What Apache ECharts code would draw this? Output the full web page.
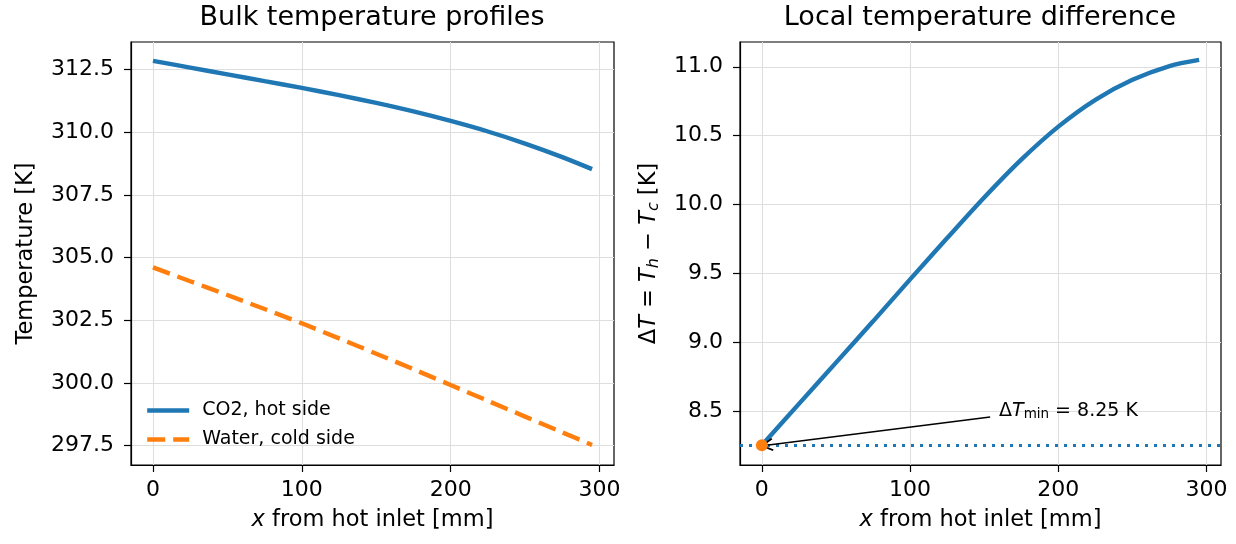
<!DOCTYPE html>
<html><head><meta charset="utf-8">
<script src="https://cdn.jsdelivr.net/npm/echarts@6/dist/echarts.min.js"></script>
<style>html,body{margin:0;padding:0;background:#fff}#c{width:1236px;height:544px}</style>
</head><body><div id="c"></div>
<script>
// ---- data ----
const xPos      = [0, 25, 50, 75, 100, 125, 150, 175, 200, 225, 250, 275, 295];
const co2Hot    = [312.85, 312.58, 312.31, 312.04, 311.77, 311.48, 311.17, 310.83, 310.45, 310.03, 309.55, 309.01, 308.53];
const waterCold = [304.61, 304.06, 303.51, 302.95, 302.38, 301.78, 301.17, 300.55, 299.92, 299.29, 298.66, 298.03, 297.53];
const deltaT    = [8.25, 8.55, 8.85, 9.15, 9.455, 9.755, 10.05, 10.325, 10.565, 10.76, 10.905, 11.005, 11.05];
const xTicks    = [0, 100, 200, 300];
const tempTicks = [297.5, 300.0, 302.5, 305.0, 307.5, 310.0, 312.5];
const dTTicks   = [8.5, 9.0, 9.5, 10.0, 10.5, 11.0];
const dTmin = 8.25, xAtMin = 0;
const annotXY   = [160, 8.5];
const arrowFrom = [154, 8.455];
const arrowTo   = [3.2, 8.25];
const seriesNames = ['CO2, hot side', 'Water, cold side'];
const titles = ['Bulk temperature profiles', 'Local temperature difference'];

const FONT = 'DejaVu Sans';
const BLUE = '#1f77b4', ORANGE = '#ff7f0e', GRIDC = '#dedede';
const LW = 4.4;
const zip = (a, b) => a.map((v, i) => [v, b[i]]);

function xAxisCfg(gi) {
  return {
    type: 'value', gridIndex: gi, min: -14.75, max: 309.75,
    axisLine: {show: true, onZero: false, lineStyle: {color: '#000', width: 1.2}},
    axisTick: {show: true, inside: false, length: 7, lineStyle: {color: '#000', width: 1.2}, customValues: xTicks},
    axisLabel: {show: true, margin: 14, fontSize: 22, fontFamily: FONT, color: '#000', customValues: xTicks, formatter: v => String(v)},
    splitLine: {show: true, lineStyle: {color: GRIDC, width: 1.1}},
    name: '{i|x} from hot inlet [mm]', nameLocation: 'middle', nameGap: 44,
    nameTextStyle: {fontSize: 22.5, fontFamily: FONT, color: '#000',
      rich: {i: {fontStyle: 'italic', fontSize: 22.5, fontFamily: FONT, color: '#000'}}}
  };
}
function yAxisCfg(gi, mn, mx, ticks, name, gap, rich) {
  return {
    type: 'value', gridIndex: gi, min: mn, max: mx,
    axisLine: {show: true, onZero: false, lineStyle: {color: '#000', width: 1.2}},
    axisTick: {show: true, inside: false, length: 7, lineStyle: {color: '#000', width: 1.2}, customValues: ticks},
    axisLabel: {show: true, margin: 17, fontSize: 22, fontFamily: FONT, color: '#000', customValues: ticks, formatter: v => v.toFixed(1)},
    splitLine: {show: true, lineStyle: {color: GRIDC, width: 1.1}},
    name: name, nameLocation: 'middle', nameGap: gap, nameRotate: 90,
    nameTextStyle: Object.assign({fontSize: 22.5, fontFamily: FONT, color: '#000'}, rich ? {rich: rich} : {})
  };
}

const chevron = 'path://M50,0 L100,88 L89,96 L50,28 L11,96 L0,88 Z';

const chart = echarts.init(document.getElementById('c'), null, {renderer: 'canvas'});
chart.setOption({
  animation: false,
  backgroundColor: '#fff',
  textStyle: {fontFamily: FONT},
  graphic: [
    {type: 'text', x: 372, y: 4, style: {text: titles[0], textAlign: 'center', fontSize: 27, fontFamily: FONT, fill: '#000'}},
    {type: 'text', x: 980, y: 4, style: {text: titles[1], textAlign: 'center', fontSize: 27, fontFamily: FONT, fill: '#000'}}
  ],
  grid: [
    {left: 131, right: 622, top: 42, bottom: 79, show: true, borderColor: '#000', borderWidth: 1.2, containLabel: false},
    {left: 740, right: 15, top: 42, bottom: 79, show: true, borderColor: '#000', borderWidth: 1.2, containLabel: false}
  ],
  xAxis: [xAxisCfg(0), xAxisCfg(1)],
  yAxis: [
    yAxisCfg(0, 296.73, 313.6, tempTicks, 'Temperature [K]', 93),
    yAxisCfg(1, 8.106, 11.18, dTTicks, '{n|Δ}{i|T}{n| = }{i|T}{s|h}{n| − }{i|T}{s|c}{n| [K]}', 78, {
      n: {fontSize: 22.5, fontFamily: FONT, color: '#000', lineHeight: 26, verticalAlign: 'middle'},
      i: {fontSize: 22.5, fontFamily: FONT, fontStyle: 'italic', color: '#000', lineHeight: 26, verticalAlign: 'middle'},
      s: {fontSize: 16, fontFamily: FONT, fontStyle: 'italic', color: '#000', lineHeight: 16, verticalAlign: 'bottom'}
    })
  ],
  legend: {
    show: true, orient: 'vertical', left: 145, top: 401, padding: 0, itemWidth: 42, itemHeight: 14, itemGap: 10,
    data: seriesNames,
    textStyle: {fontSize: 19, fontFamily: FONT, color: '#000', padding: [0, 0, 0, 8]},
    itemStyle: {opacity: 0},
    lineStyle: {width: LW}
  },
  series: [
    {name: seriesNames[0], type: 'line', xAxisIndex: 0, yAxisIndex: 0, data: zip(xPos, co2Hot),
     smooth: 0.3, symbol: 'none', color: BLUE, lineStyle: {color: BLUE, width: LW}, z: 3},
    {name: seriesNames[1], type: 'line', xAxisIndex: 0, yAxisIndex: 0, data: zip(xPos, waterCold),
     smooth: 0.3, symbol: 'none', color: ORANGE, lineStyle: {color: ORANGE, width: LW, type: [18, 8]}, z: 3},
    {name: 'dT', type: 'line', xAxisIndex: 1, yAxisIndex: 1, data: zip(xPos, deltaT),
     smooth: 0.3, symbol: 'none', color: BLUE, lineStyle: {color: BLUE, width: LW}, z: 3,
     markLine: {silent: true, symbol: ['none', 'none'], label: {show: false},
       lineStyle: {color: BLUE, width: 3, type: [3, 6]},
       data: [{yAxis: dTmin}]}},
    {name: 'min', type: 'scatter', xAxisIndex: 1, yAxisIndex: 1, data: [[xAtMin, dTmin]],
     symbol: 'circle', symbolSize: 12, itemStyle: {color: ORANGE, opacity: 1}, z: 6},
    {name: 'annot', type: 'scatter', xAxisIndex: 1, yAxisIndex: 1, data: [annotXY],
     symbolSize: 0, z: 5,
     label: {show: true, position: 'right', distance: 0, color: '#000', opacity: 1, textBorderWidth: 0,
       formatter: '{n|Δ}{i|T}{s|min}{n|= 8.25 K}',
       rich: {
         n: {fontSize: 19, fontFamily: FONT, color: '#000', lineHeight: 22, verticalAlign: 'middle', textBorderWidth: 0},
         i: {fontSize: 19, fontFamily: FONT, fontStyle: 'italic', color: '#000', lineHeight: 22, verticalAlign: 'middle', textBorderWidth: 0},
         s: {fontSize: 13.5, fontFamily: FONT, color: '#000', lineHeight: 13, verticalAlign: 'bottom', padding: [0, 6, 0, 0], textBorderWidth: 0}
       }},
     markLine: {silent: true, symbol: ['none', chevron], symbolSize: [13, 13], label: {show: false},
       lineStyle: {color: '#000', width: 1.4, type: 'solid', opacity: 1},
       itemStyle: {color: '#000'},
       data: [[{coord: arrowFrom}, {coord: arrowTo}]]}}
  ]
});
</script></body></html>
